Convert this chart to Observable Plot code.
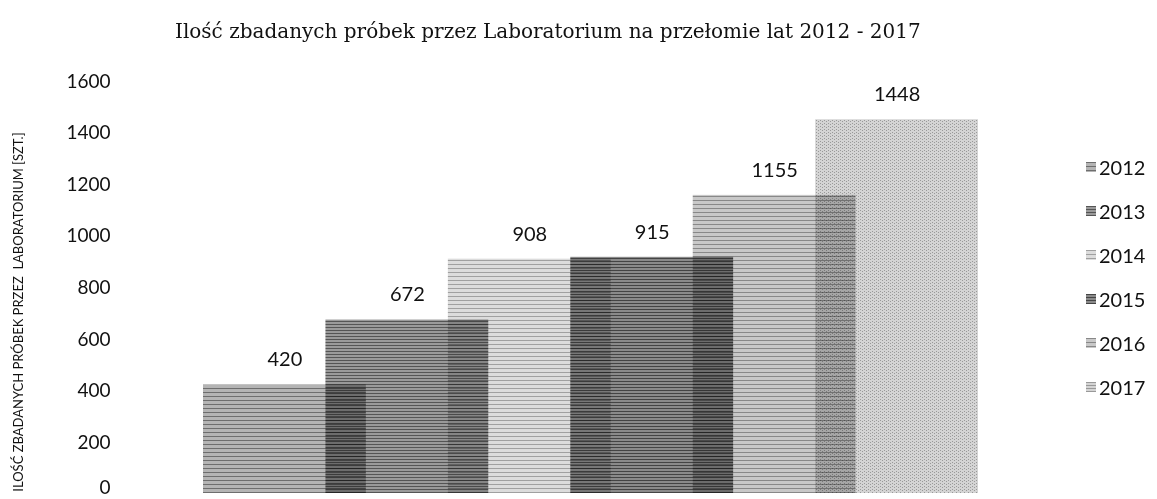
<!DOCTYPE html>
<html>
<head>
<meta charset="utf-8">
<script src="https://cdn.jsdelivr.net/npm/d3@7"></script>
<script src="https://cdn.jsdelivr.net/npm/@observablehq/plot@0.6"></script>
<style>
  body { margin: 0; background: #fff; }
  #wrap { position: relative; width: 1157px; height: 499px; overflow: hidden; background: #fff; }
  #chart { position: absolute; left: 0; top: 0; }
  #title { position: absolute; left: 175px; top: 19px; font-family: "DejaVu Serif", serif; font-size: 20px; color: #111; white-space: nowrap; }
  #ylabel { position: absolute; left: 18px; top: 312px; transform: translate(-50%, -50%) rotate(-90deg); font-family: Lato, sans-serif; font-size: 13px; color: #111; white-space: pre; }
  .leg { position: absolute; left: 1086px; font-family: Lato, sans-serif; font-size: 20px; color: #111; display: flex; align-items: center; white-space: nowrap; }
  .sw { width: 10px; height: 10px; margin-right: 3px; }
</style>
</head>
<body>
<div id="wrap">
  <div id="chart"></div>
  <div id="title"></div>
  <div id="ylabel"></div>
</div>
<script>
const years = [2012, 2013, 2014, 2015, 2016, 2017];
const values = [420, 672, 908, 915, 1155, 1448];
const yTicks = [0, 200, 400, 600, 800, 1000, 1200, 1400, 1600];
const baseColors = ["#b4b4b4", "#9a9a9a", "#dcdcdc", "#8a8a8a", "#c8c8c8", "#d4d4d4"];
const lineColors = ["#6e6e6e", "#555555", "#a0a0a0", "#444444", "#888888", "#999999"];
const linePeriods = [4, 3, 4, 3, 4, 3];
const titleText = "Ilość zbadanych próbek przez Laboratorium na przełomie lat 2012 - 2017";
const yLabelText = "ILOŚĆ ZBADANYCH PRÓBEK PRZEZ  LABORATORIUM [SZT.]";
const barSpan = 1.33; // bars overlap: each spans 1.33 year-steps

const data = years.map((year, i) => ({ year, value: values[i] }));
const patternIds = years.map(y => "pat" + y);

const chart = Plot.plot({
  width: 1157,
  height: 499,
  marginLeft: 203,
  marginRight: 179,
  marginTop: 80,
  marginBottom: 6,
  style: { fontFamily: "Lato, sans-serif", background: "transparent", color: "#111" },
  x: { type: "linear", domain: [years[0], years[years.length - 1] + barSpan], axis: null },
  y: { domain: [0, 1600], axis: null },
  color: { type: "ordinal", domain: years, range: patternIds.map(id => `url(#${id})`) },
  marks: [
    Plot.rectY(data, {
      x1: "year",
      x2: d => d.year + barSpan,
      y1: 0,
      y2: "value",
      fill: "year",
      mixBlendMode: "multiply"
    }),
    Plot.text(data, {
      x: d => d.year + barSpan / 2,
      y: "value",
      text: d => String(d.value),
      dy: -25,
      fontSize: 20,
      fill: "#111"
    }),
    Plot.axisY({
      ticks: yTicks.filter(t => t > 0),
      tickSize: 0,
      tickPadding: 93,
      fontSize: 19,
      label: null,
      dy: 1,
      tickFormat: d => String(d)
    }),
    Plot.axisY({
      ticks: yTicks.filter(t => t === 0),
      tickSize: 0,
      tickPadding: 93,
      fontSize: 19,
      label: null,
      dy: -6,
      tickFormat: d => String(d)
    })
  ]
});

// patterns to imitate the halftone fills
const defs = d3.select(chart).insert("defs", ":first-child");
years.forEach((y, i) => {
  const p = linePeriods[i];
  const pat = defs.append("pattern")
    .attr("id", patternIds[i])
    .attr("patternUnits", "userSpaceOnUse")
    .attr("width", 4).attr("height", p);
  pat.append("rect").attr("width", 4).attr("height", p).attr("fill", baseColors[i]);
  if (i === 5) {
    pat.append("rect").attr("x", 0).attr("y", 0).attr("width", 1).attr("height", 1).attr("fill", lineColors[i]);
    pat.append("rect").attr("x", 2).attr("y", 1).attr("width", 1).attr("height", 1).attr("fill", lineColors[i]);
  } else {
    pat.append("rect").attr("x", 0).attr("y", 0).attr("width", 4).attr("height", 1).attr("fill", lineColors[i]);
  }
});

document.getElementById("chart").appendChild(chart);
document.getElementById("title").textContent = titleText;
document.getElementById("ylabel").textContent = yLabelText;

const wrap = document.getElementById("wrap");
years.forEach((y, i) => {
  const el = document.createElement("div");
  el.className = "leg";
  el.style.top = (167 + i * 44 - 12) + "px";
  el.style.height = "24px";
  const sw = document.createElement("span");
  sw.className = "sw";
  sw.style.background = `repeating-linear-gradient(180deg, ${lineColors[i]} 0 1px, ${baseColors[i]} 1px ${linePeriods[i]}px)`;
  const t = document.createElement("span");
  t.textContent = String(y);
  el.appendChild(sw);
  el.appendChild(t);
  wrap.appendChild(el);
});
</script>
</body>
</html>
